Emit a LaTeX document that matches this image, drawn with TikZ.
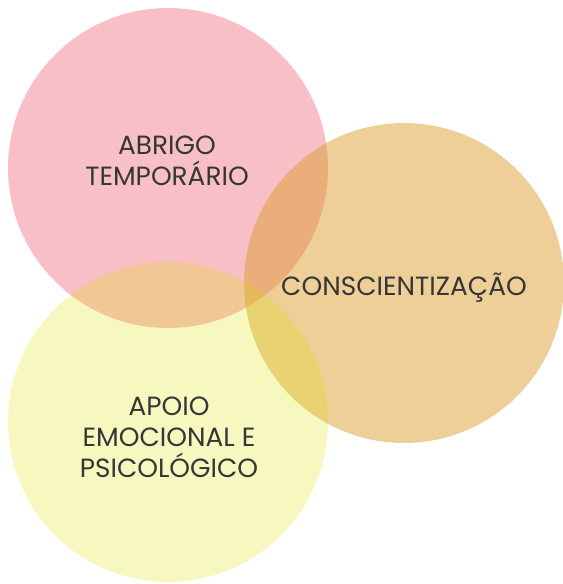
\documentclass[tikz,border=0pt]{standalone}
\usepackage{fontspec}
\setmainfont{Poppins}
\definecolor{circpink}{RGB}{248,191,198}
\definecolor{circorange}{RGB}{219,159,47}
\definecolor{circyellow}{RGB}{223,223,3}
\definecolor{labeltext}{HTML}{363636}
\begin{document}
\begin{tikzpicture}[
    x=0.02cm, y=-0.02cm,
    bubble/.style={circle,inner sep=0pt,minimum size=6.4cm},
    label/.style={align=center,text=labeltext,font=\fontsize{15}{17.6}\selectfont}
]
\useasboundingbox (0,0) rectangle (562,584);

% Circulos
\node[bubble,fill=circpink] (abrigo) at (168,168) {};
\node[bubble,fill=circorange,fill opacity=0.5] (consc) at (404,283) {};
\node[bubble,fill=circyellow,fill opacity=0.25] (apoio) at (168,422) {};

% Textos
\node[label] (abrigotxt) at (167,161) {ABRIGO\\TEMPORÁRIO};
\node[label] (consctxt) at (404,288) {CONSCIENTIZAÇÃO};
\node[label] (apoiotxt) at (169,437) {APOIO\\EMOCIONAL E\\PSICOLÓGICO};

\end{tikzpicture}
\end{document}
